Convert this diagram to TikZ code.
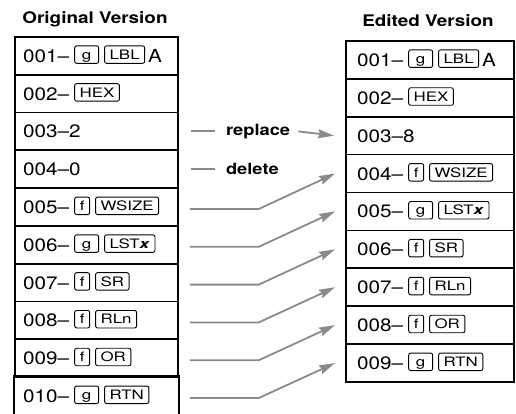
\documentclass[tikz,border=0pt]{standalone}
\usepackage{graphicx}
\usepackage{fontspec}
\setmainfont{TeX Gyre Heros}
\usetikzlibrary{arrows.meta}
\definecolor{arr}{HTML}{8A8A8A}
\tikzset{
  tbl/.style={draw, line width=1.8pt, anchor=north west, inner sep=0pt},
  lrow/.style={tbl, minimum height=37.8pt, minimum width=163pt},
  rrow/.style={tbl, minimum height=37.9pt, minimum width=168pt},
  rtext/.style={anchor=base west, inner sep=0pt, font=\fontsize{18}{20}\selectfont},
  keybox/.style={draw=black, line width=0.9pt, rounded corners=2pt, inner xsep=5pt,
    inner ysep=0pt, text height=9.3pt, text depth=0pt,
    minimum height=17.5pt, minimum width=0pt, anchor=center,
    font=\fontsize{13}{14}\selectfont},
  gk/.style={minimum width=24pt},
  fk/.style={minimum width=15pt},
  titl/.style={font=\bfseries\fontsize{16}{18}\selectfont, inner sep=0pt},
  lab/.style={font=\bfseries\fontsize{15.5}{18}\selectfont, inner sep=0pt, anchor=west},
  gl/.style={draw=arr, line width=1.8pt},
  mv/.style={gl, -{Stealth[length=16pt,width=9pt,inset=2pt]}},
}
\newcommand\kbox[2][]{\tikz[baseline={([yshift=1.5pt]kk.south)}]\node[keybox,#1](kk){\scalebox{1.3}[1]{#2}};}
\newcommand\nm[1]{\scalebox{1.15}[1]{#1}}
\newcommand\wdb[1]{\scalebox{1.18}[1]{#1}}
\newcommand\gap{\hspace{5pt}}
\newcommand\kgap{\hspace{5pt}}
\begin{document}
\begin{tikzpicture}[x=1pt,y=-1pt]
\useasboundingbox (0,0) rectangle (516,414);
% titles
\node[titl] (t1) at (95,19) {\wdb{Original Version}};
\node[titl] (t2) at (428,21) {\wdb{Edited Version}};
% left table
\foreach \i in {1,...,9}{\node[lrow] (L\i) at (14,{36+(\i-1)*37.8}) {};}
\node[lrow, draw=none] (L10) at (14,376.2) {};
\draw[line width=1.8pt] ([yshift=-8pt]L10.south west) -- (L10.north west) -- (L10.north east) -- ([yshift=-8pt]L10.south east);
% right table
\foreach \i in {1,...,9}{\node[rrow] (R\i) at (345,{40+(\i-1)*37.9}) {};}
% left texts
\node[rtext] (L1t) at ([xshift=9pt,yshift=-6.5pt]L1.west) {\nm{001–}\gap\kbox[gk]{g}\kgap\kbox{LBL}\hspace{3pt}\nm{A}};
\node[rtext] (L2t) at ([xshift=9pt,yshift=-6.5pt]L2.west) {\nm{002–}\gap\kbox{HEX}};
\node[rtext] (L3t) at ([xshift=9pt,yshift=-6.5pt]L3.west) {\nm{003–2}};
\node[rtext] (L4t) at ([xshift=9pt,yshift=-6.5pt]L4.west) {\nm{004–0}};
\node[rtext] (L5t) at ([xshift=9pt,yshift=-6.5pt]L5.west) {\nm{005–}\gap\kbox[fk]{f}\kgap\kbox{WSIZE}};
\node[rtext] (L6t) at ([xshift=9pt,yshift=-6.5pt]L6.west) {\nm{006–}\gap\kbox[gk]{g}\kgap\kbox{LST\textbf{\textit{x}}}};
\node[rtext] (L7t) at ([xshift=9pt,yshift=-6.5pt]L7.west) {\nm{007–}\gap\kbox[fk]{f}\kgap\kbox{SR}};
\node[rtext] (L8t) at ([xshift=9pt,yshift=-6.5pt]L8.west) {\nm{008–}\gap\kbox[fk]{f}\kgap\kbox{RLn}};
\node[rtext] (L9t) at ([xshift=9pt,yshift=-6.5pt]L9.west) {\nm{009–}\gap\kbox[fk]{f}\kgap\kbox{OR}};
\node[rtext] (L10t) at ([xshift=9pt,yshift=-6.5pt]L10.west) {\nm{010–}\gap\kbox[gk]{g}\kgap\kbox{RTN}};
% right texts
\node[rtext] (R1t) at ([xshift=12pt,yshift=-6.5pt]R1.west) {\nm{001–}\gap\kbox[gk]{g}\kgap\kbox{LBL}\hspace{3pt}\nm{A}};
\node[rtext] (R2t) at ([xshift=12pt,yshift=-6.5pt]R2.west) {\nm{002–}\gap\kbox{HEX}};
\node[rtext] (R3t) at ([xshift=12pt,yshift=-6.5pt]R3.west) {\nm{003–8}};
\node[rtext] (R4t) at ([xshift=12pt,yshift=-6.5pt]R4.west) {\nm{004–}\gap\kbox[fk]{f}\kgap\kbox{WSIZE}};
\node[rtext] (R5t) at ([xshift=12pt,yshift=-6.5pt]R5.west) {\nm{005–}\gap\kbox[gk]{g}\kgap\kbox{LST\textbf{\textit{x}}}};
\node[rtext] (R6t) at ([xshift=12pt,yshift=-6.5pt]R6.west) {\nm{006–}\gap\kbox[fk]{f}\kgap\kbox{SR}};
\node[rtext] (R7t) at ([xshift=12pt,yshift=-6.5pt]R7.west) {\nm{007–}\gap\kbox[fk]{f}\kgap\kbox{RLn}};
\node[rtext] (R8t) at ([xshift=12pt,yshift=-6.5pt]R8.west) {\nm{008–}\gap\kbox[fk]{f}\kgap\kbox{OR}};
\node[rtext] (R9t) at ([xshift=12pt,yshift=-6.5pt]R9.west) {\nm{009–}\gap\kbox[gk]{g}\kgap\kbox{RTN}};
% replace / delete
\node[lab] (rep) at ([xshift=47pt]L3.east) {\wdb{replace}};
\node[lab] (del) at ([xshift=47pt]L4.east) {\wdb{delete}};
\draw[gl] ([xshift=12pt]L3.east) -- ([xshift=-11pt]rep.west);
\draw[gl] ([xshift=12pt]L4.east) -- ([xshift=-11pt]del.west);
\draw[mv] ([xshift=8pt]rep.east) -- ([xshift=-11pt]R3.west);
% moves
\foreach \s/\t in {5/4,6/5,7/6,8/7,9/8}{
  \draw[mv] ([xshift=11pt,yshift=-2pt]L\s.east) -- ++(69,0) -- ([xshift=-10pt]R\t.west);
}
\draw[mv] ([xshift=11pt,yshift=-2pt]L10.east) -- ++(69,0) -- ([xshift=-10pt]R9.west);
\end{tikzpicture}
\end{document}
